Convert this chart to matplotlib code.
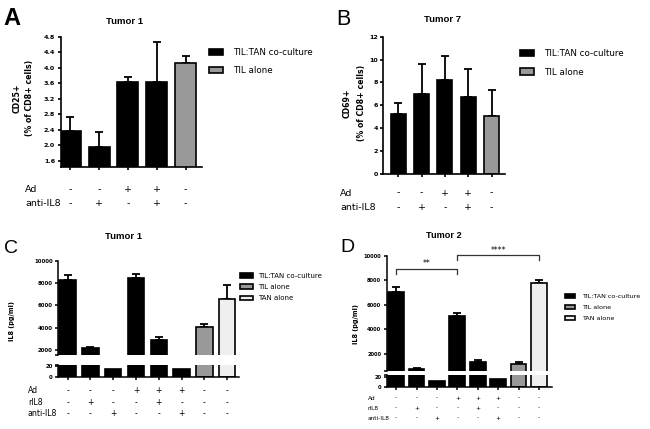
import matplotlib
matplotlib.use("Agg")
import matplotlib.pyplot as plt
from matplotlib import transforms
from matplotlib.patches import Patch

W, H = 650, 429

# panel A - Tumor 1, CD25+
a_vals = [2.38, 1.95, 3.62, 3.62, 4.11]
a_err = [0.35, 0.39, 0.15, 1.05, 0.19]
a_group = ["co", "co", "co", "co", "til"]
a_ad = ["-", "-", "+", "+", "-"]
a_anti = ["-", "+", "-", "+", "-"]

# panel B - Tumor 7, CD69+
b_vals = [5.22, 6.97, 8.22, 6.70, 5.07]
b_err = [1.01, 2.65, 2.09, 2.50, 2.30]
b_group = ["co", "co", "co", "co", "til"]
b_ad = ["-", "-", "+", "+", "-"]
b_anti = ["-", "+", "-", "+", "-"]

# panel C - Tumor 1, IL8
c_vals = [8300, 2200, 13.5, 8480, 2900, 14.5, 4100, 6590]
c_err = [450, 90, 0, 340, 300, 0, 210, 1260]
c_group = ["co", "co", "co", "co", "co", "co", "til", "tan"]
c_ad = ["-", "-", "-", "+", "+", "+", "-", "-"]
c_ril8 = ["-", "+", "-", "-", "+", "-", "-", "-"]
c_anti = ["-", "-", "+", "-", "-", "+", "-", "-"]

# panel D - Tumor 2, IL8
d_vals = [7070, 800, 11.4, 5090, 1325, 16, 1210, 7800]
d_err = [410, 80, 0, 270, 185, 0, 110, 220]
d_group = ["co", "co", "co", "co", "co", "co", "til", "tan"]
d_ad = ["-", "-", "-", "+", "+", "+", "-", "-"]
d_ril8 = ["-", "+", "-", "-", "+", "-", "-", "-"]
d_anti = ["-", "-", "+", "-", "-", "+", "-", "-"]

colors = {"co": "black", "til": "#999999", "tan": "#efefef"}
names = {"co": "TIL:TAN co-culture", "til": "TIL alone", "tan": "TAN alone"}

plt.rcParams["font.family"] = "DejaVu Sans"

fig = plt.figure(figsize=(6.5, 4.29), dpi=100)


def px_axes(l, t, r, b):
    return fig.add_axes([l / W, 1 - b / H, (r - l) / W, (b - t) / H])


def fy(y):
    return 1 - y / H


def style(ax, tick_fs, lw=1.2):
    for s in ["top", "right"]:
        ax.spines[s].set_visible(False)
    for s in ["left", "bottom"]:
        ax.spines[s].set_linewidth(lw)
    ax.tick_params(direction="out", length=2.5, width=lw, labelsize=tick_fs, pad=1.5)
    for lab in ax.get_yticklabels():
        lab.set_fontweight("bold")


def bars(ax, vals, err, group, width, with_err=True):
    x = list(range(len(vals)))
    cols = [colors[g] for g in group]
    ax.bar(x, vals, width=width, color=cols, edgecolor="black", linewidth=1.2, zorder=2)
    if with_err:
        lo = [0] * len(vals)
        ax.errorbar(x, vals, yerr=[lo, err], fmt="none", ecolor="black",
                    elinewidth=1.3, capsize=3, capthick=1.3, zorder=1)


def cond_rows(ax, rows, ys, label_x, fs):
    tr = transforms.blended_transform_factory(ax.transData, fig.transFigure)
    for (name, signs), y in zip(rows, ys):
        fig.text(label_x / W, fy(y), name, fontsize=fs, va="center", ha="left")
        for i, s in enumerate(signs):
            ax.text(i, fy(y), s, transform=tr, ha="center", va="center", fontsize=fs)


def legend(ax, keys, x, y, fs, hl, hh, ls, pad):
    handles = [Patch(facecolor=colors[k], edgecolor="black", linewidth=1.2) for k in keys]
    ax.legend(handles, [names[k] for k in keys], loc="upper left",
              bbox_to_anchor=(x / W, fy(y)), bbox_transform=fig.transFigure,
              frameon=False, fontsize=fs, handlelength=hl, handleheight=hh,
              labelspacing=ls, handletextpad=pad, borderpad=0, borderaxespad=0)


# ---------- A ----------
axA = px_axes(60.7, 36.7, 201.7, 166.7)
bars(axA, a_vals, a_err, a_group, 0.73)
axA.set_xlim(-0.33, 4.56)
axA.set_ylim(1.45, 4.8)
axA.set_yticks([1.6, 2.0, 2.4, 2.8, 3.2, 3.6, 4.0, 4.4, 4.8])
axA.set_xticks(range(5))
axA.set_xticklabels([])
style(axA, 4.6)
axA.set_yticklabels(["1.6", "2.0", "2.4", "2.8", "3.2", "3.6", "4.0", "4.4", "4.8"], fontweight="bold")
legend(axA, ["co", "til"], 209, 48, 6.3, 1.6, 0.75, 1.05, 1.2)
cond_rows(axA, [("Ad", a_ad), ("anti-IL8", a_anti)], [189.5, 203.5], 25, 6.8)
fig.text(125 / W, fy(21), "Tumor 1", ha="center", va="center", fontsize=6.8,
         fontweight="bold", family="Liberation Sans")
fig.text(17.5 / W, fy(98), "CD25+", rotation=90, ha="center", va="center",
         fontsize=5.6, fontweight="bold")
fig.text(29.5 / W, fy(98), "(% of CD8+ cells)", rotation=90, ha="center", va="center",
         fontsize=5.6, fontweight="bold")
fig.text(3 / W, fy(25), "A", fontsize=17, fontweight="bold", family="Liberation Sans",
         ha="left", va="baseline")

# ---------- B ----------
axB = px_axes(383.3, 36.7, 505, 174)
bars(axB, b_vals, b_err, b_group, 0.64)
axB.set_xlim(-0.64, 4.57)
axB.set_ylim(0, 12)
axB.set_yticks([0, 2, 4, 6, 8, 10, 12])
axB.set_xticks(range(5))
axB.set_xticklabels([])
style(axB, 4.6)
legend(axB, ["co", "til"], 520, 49, 6.3, 1.6, 0.75, 1.1, 1.2)
cond_rows(axB, [("Ad", b_ad), ("anti-IL8", b_anti)], [193, 207.5], 340, 6.8)
fig.text(443 / W, fy(20), "Tumor 7", ha="center", va="center", fontsize=6.8,
         fontweight="bold", family="Liberation Sans")
fig.text(347.5 / W, fy(103), "CD69+", rotation=90, ha="center", va="center",
         fontsize=5.6, fontweight="bold")
fig.text(361.5 / W, fy(103), "(% of CD8+ cells)", rotation=90, ha="center", va="center",
         fontsize=5.6, fontweight="bold")
fig.text(336.5 / W, fy(25), "B", fontsize=15.5, family="Liberation Sans",
         ha="left", va="baseline")


# ---------- broken axis panels ----------
def broken(left, right, top_t, top_b, bot_t, bot_b, top_lim, bot_lim, vals, err, group,
           width, xlim, tick_fs):
    top = px_axes(left, top_t, right, top_b)
    bot = px_axes(left, bot_t, right, bot_b)
    bars(top, vals, err, group, width)
    bars(bot, vals, err, group, width, with_err=False)
    for ax in (top, bot):
        ax.set_xlim(*xlim)
    top.set_ylim(*top_lim)
    bot.set_ylim(*bot_lim)
    top.set_yticks([top_lim[0], 2000, 4000, 6000, 8000, 10000])
    top.set_yticklabels(["", "2000", "4000", "6000", "8000", "10000"])
    bot.set_yticks([0, 20, bot_lim[1]])
    bot.set_yticklabels(["0", "20", ""])
    style(top, tick_fs, lw=1.1)
    style(bot, tick_fs, lw=1.1)
    top.spines["bottom"].set_visible(False)
    top.set_xticks([])
    bot.set_xticks(range(len(vals)))
    bot.set_xticklabels([])
    return top, bot


# ---------- C ----------
cTop, cBot = broken(58.3, 239.3, 261, 355, 364.6, 376.7, (1550, 10000), (0, 22),
                    c_vals, c_err, c_group, 0.72, (-0.41, 7.53), 3.9)
legend(cTop, ["co", "til", "tan"], 240, 273, 5.0, 1.9, 0.7, 0.75, 0.75)
cond_rows(cBot, [("Ad", c_ad), ("rIL8", c_ril8), ("anti-IL8", c_anti)],
          [390.5, 402.5, 414], 28, 5.6)
fig.text(124 / W, fy(236.7), "Tumor 1", ha="center", va="center", fontsize=6.8,
         fontweight="bold", family="Liberation Sans")
fig.text(12.5 / W, fy(321.5), "IL8 (pg/ml)", rotation=90, ha="center", va="center",
         fontsize=4.7, fontweight="bold")
fig.text(4 / W, fy(253), "C", fontsize=14, family="Liberation Sans",
         ha="left", va="baseline")

# ---------- D ----------
dTop, dBot = broken(386.7, 551.7, 255.7, 370.7, 375, 386.7, (640, 10000), (0, 23),
                    d_vals, d_err, d_group, 0.77, (-0.46, 7.62), 3.7)
legend(dTop, ["co", "til", "tan"], 565, 294, 4.6, 1.6, 0.7, 0.85, 1.0)
cond_rows(dBot, [("Ad", d_ad), ("rIL8", d_ril8), ("anti-IL8", d_anti)],
          [398, 408, 418], 368, 4.2)
fig.text(443.7 / W, fy(235.7), "Tumor 2", ha="center", va="center", fontsize=6.6,
         fontweight="bold", family="Liberation Sans")
fig.text(356 / W, fy(324), "IL8 (pg/ml)", rotation=90, ha="center", va="center",
         fontsize=4.7, fontweight="bold")
fig.text(340 / W, fy(251.7), "D", fontsize=14, family="Liberation Sans",
         ha="left", va="baseline")

# significance brackets
dTop.plot([0, 0, 3, 3], [8510, 8900, 8900, 8510], color="#333333", lw=0.9, clip_on=False)
dTop.text(1.5, 9380, "**", ha="center", va="center", fontsize=5.5, clip_on=False)
dTop.plot([3, 3, 7, 7], [9650, 10050, 10050, 9650], color="#333333", lw=0.9, clip_on=False)
dTop.text(5, 10460, "****", ha="center", va="center", fontsize=5.5, clip_on=False)

fig.savefig("out.png", dpi=100)
